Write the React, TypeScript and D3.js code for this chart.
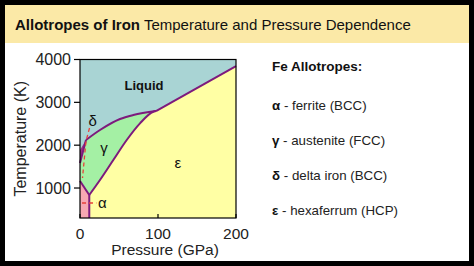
import React from "react";
import * as d3 from "d3";

// ---- data (pressure GPa, temperature K) ----
const xTicks = [0, 100, 200];
const yTicks = [1000, 2000, 3000, 4000];

const deltaLiquidP = [0, 7.7];
const deltaLiquidT = [1584, 2121];
const deltaWedgeP = [0, 0, 7.7];
const deltaWedgeT = [1584, 1887, 2121];

const liquidGammaP = [7.7, 25.6, 51.3, 68.3, 97.4];
const liquidGammaT = [2121, 2354, 2611, 2704, 2797];

const liquidEpsP = [97.4, 200];
const liquidEpsT = [2797, 3848];

const gammaEpsP = [11.9, 25.6, 42.7, 59.9, 76.9, 94, 97.4];
const gammaEpsT = [837, 1187, 1654, 2121, 2510, 2781, 2797];

const alphaGammaP = [0, 11.9];
const alphaGammaT = [1164, 837];

const alphaEpsP = [11.9, 11.9];
const alphaEpsT = [837, 300];

const deltaDashP = [12.2, 7.7, 3.2];
const deltaDashT = [2400, 2097, 1234];

const alphaDashP = [2.6, 21];
const alphaDashT = [650, 650];

const phaseLabels = [
  { text: "Liquid", p: 82, t: 3404, bold: true, anchor: "middle" },
  { text: "δ", p: 16.3, t: 2564, bold: false, anchor: "middle" },
  { text: "γ", p: 30.8, t: 1934, bold: false, anchor: "middle" },
  { text: "ε", p: 125.6, t: 1584, bold: false, anchor: "middle" },
  { text: "α", p: 23, t: 650, bold: false, anchor: "start" },
];

const legendSymbols = ["α", "γ", "δ", "ε"];
const legendTexts = [" - ferrite (BCC)", " - austenite (FCC)", " - delta iron (BCC)", " - hexaferrum (HCP)"];

const FONT = "'Liberation Sans', Arial, Helvetica, sans-serif";

export default function App() {
  const x = d3.scaleLinear().domain([0, 200]).range([80, 236]);
  const y = d3.scaleLinear().domain([300, 4000]).range([218, 59.5]);
  const [tMin, tMax] = y.domain();

  const zip = (P: number[], T: number[]) => P.map((p, i) => [p, T[i]] as [number, number]);
  const lin = d3.line<[number, number]>().x((d) => x(d[0])).y((d) => y(d[1]));
  const smooth = d3
    .line<[number, number]>()
    .x((d) => x(d[0]))
    .y((d) => y(d[1]))
    .curve(d3.curveMonotoneX);
  const cont = (s: string | null) => (s || "").replace(/^M/, "L");

  const liquidGammaPath = smooth(zip(liquidGammaP, liquidGammaT)) || "";
  const gammaEpsPath = smooth(zip(gammaEpsP, gammaEpsT)) || "";

  // regions
  const belowLiquid =
    (lin(zip(deltaLiquidP, deltaLiquidT)) || "") +
    cont(liquidGammaPath) +
    cont(lin(zip(liquidEpsP, liquidEpsT))) +
    cont(lin([[200, tMin], [0, tMin]])) +
    "Z";
  const epsRegion =
    gammaEpsPath +
    cont(lin(zip(liquidEpsP, liquidEpsT))) +
    cont(lin([[200, tMin], [alphaEpsP[0], tMin]])) +
    "Z";
  const alphaRegion =
    (lin([[0, tMin], [alphaGammaP[0], alphaGammaT[0]], [alphaGammaP[1], alphaGammaT[1]], [alphaEpsP[1], tMin]]) || "") + "Z";
  const wedge = (lin(zip(deltaWedgeP, deltaWedgeT)) || "") + "Z";

  const purple = "#7d1a7d";
  const x0 = x(0), x1 = x(200), y0 = y(tMin), y1 = y(tMax);

  return (
    <svg
      width={474}
      height={266}
      style={{ position: "fixed", left: 0, top: 0, display: "block" }}
      fontFamily={FONT}
    >
      <rect x={0} y={0} width={474} height={266} fill="#000" />
      <rect x={5} y={5} width={464} height={256} fill="#fff" />
      <rect x={5} y={5} width={464} height={38} fill="#fbe9a7" />
      <text x={15} y={29.5} fontSize={15} fill="#111">
        <tspan fontWeight="bold">Allotropes of Iron</tspan>
        <tspan> Temperature and Pressure Dependence</tspan>
      </text>

      {/* plot */}
      <rect x={x0} y={y1} width={x1 - x0} height={y0 - y1} fill="#a9d4d4" />
      <path d={belowLiquid} fill="#a4f0a4" />
      <path d={epsRegion} fill="#ffffa4" />
      <path d={alphaRegion} fill="#f7a8b2" />
      <path d={wedge} fill="#9a3088" />

      <g fill="none" stroke={purple} strokeWidth={2} strokeLinejoin="round">
        <path d={lin(zip(deltaLiquidP, deltaLiquidT)) || ""} />
        <path d={liquidGammaPath} />
        <path d={lin(zip(liquidEpsP, liquidEpsT)) || ""} />
        <path d={gammaEpsPath} />
        <path d={lin(zip(alphaGammaP, alphaGammaT)) || ""} />
        <path d={lin(zip(alphaEpsP, alphaEpsT)) || ""} />
      </g>
      <g fill="none" stroke="#e8403a" strokeWidth={1.3} strokeDasharray="4,3">
        <path d={lin(zip(deltaDashP, deltaDashT)) || ""} />
        <path d={lin(zip(alphaDashP, alphaDashT)) || ""} />
      </g>

      {phaseLabels.map((l, i) => (
        <text
          key={i}
          x={x(l.p)}
          y={y(l.t)}
          dy="0.35em"
          fontSize={l.bold ? 13 : 15}
          fontWeight={l.bold ? "bold" : "normal"}
          textAnchor={l.anchor as any}
          fill="#111"
        >
          {l.text}
        </text>
      ))}

      {/* frame */}
      <rect x={x0} y={y1} width={x1 - x0} height={y0 - y1} fill="none" stroke="#000" strokeWidth={1.2} />
      {yTicks.map((t) => (
        <g key={t}>
          <line x1={x0 - 6} x2={x0} y1={y(t)} y2={y(t)} stroke="#000" strokeWidth={1.2} />
          <text x={x0 - 9} y={y(t)} dy="0.36em" textAnchor="end" fontSize={16} fill="#222">
            {t}
          </text>
        </g>
      ))}
      {xTicks.map((p) => (
        <g key={p}>
          <line x1={x(p)} x2={x(p)} y1={y0} y2={y0 - 4} stroke="#000" strokeWidth={1.2} />
          <text x={x(p)} y={238.5} textAnchor="middle" fontSize={15.5} fill="#222">
            {p}
          </text>
        </g>
      ))}
      <text x={165} y={254.5} textAnchor="middle" fontSize={15.5} fill="#222">
        Pressure (GPa)
      </text>
      <text
        transform={`translate(26,${(y0 + y1) / 2}) rotate(-90)`}
        textAnchor="middle"
        fontSize={16}
        fill="#222"
      >
        Temperature (K)
      </text>

      {/* legend */}
      <text x={272} y={71} fontSize={13.5} fontWeight="bold" fill="#111">
        Fe Allotropes:
      </text>
      {legendSymbols.map((s, i) => (
        <text key={s} x={272} y={110 + i * 35} fontSize={13.3} fill="#222">
          <tspan fontWeight="bold" fill="#111">{s}</tspan>
          <tspan>{legendTexts[i]}</tspan>
        </text>
      ))}
    </svg>
  );
}
